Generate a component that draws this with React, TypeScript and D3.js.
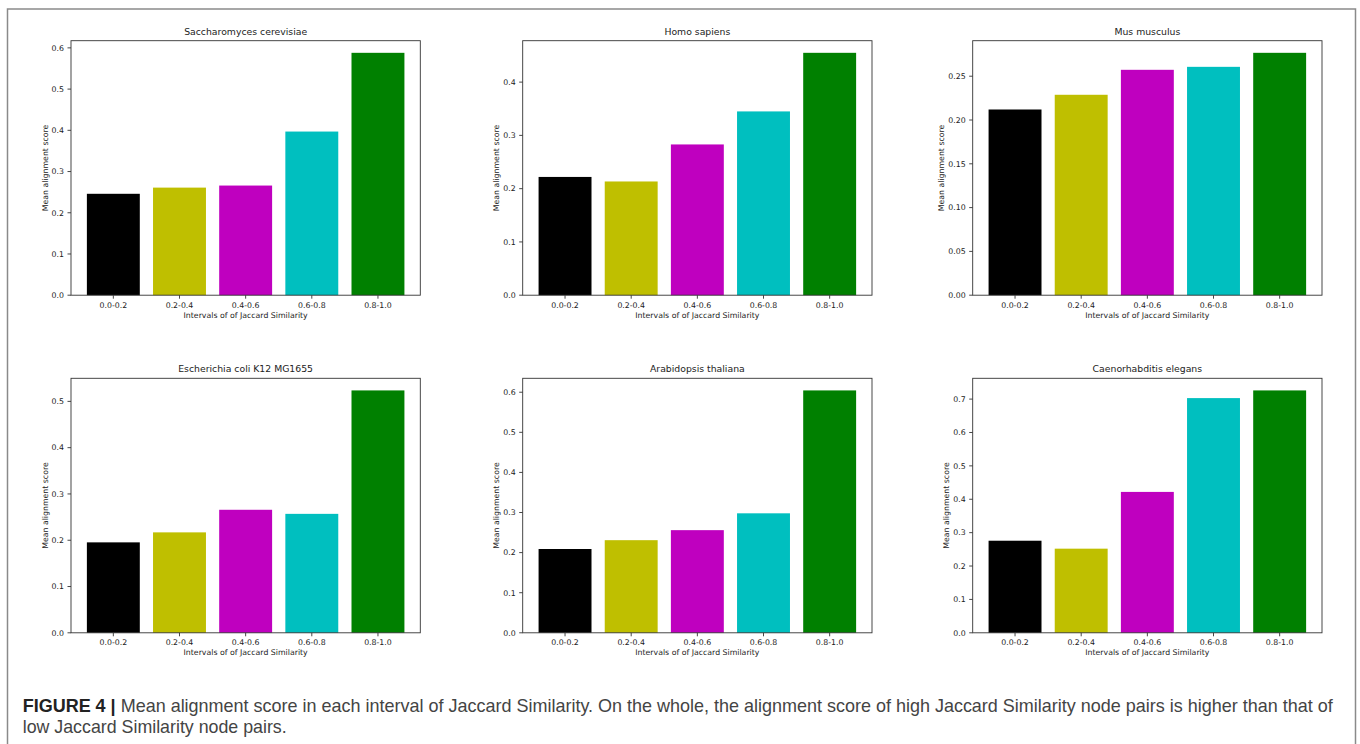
import React from "react";
import * as d3 from "d3";

// Jaccard similarity intervals shared by every panel
const intervals = ["0.0-0.2", "0.2-0.4", "0.4-0.6", "0.6-0.8", "0.8-1.0"];
const barColors = ["#000000", "#bfbf00", "#bf00bf", "#00bfbf", "#008000"];

// Mean alignment score per interval, one array per organism
const saccharomycesScores = [0.246, 0.261, 0.266, 0.397, 0.588];
const homoScores = [0.222, 0.2135, 0.283, 0.345, 0.455];
const musScores = [0.212, 0.2288, 0.2573, 0.2607, 0.2767];
const ecoliScores = [0.1954, 0.217, 0.2658, 0.257, 0.5237];
const arabidopsisScores = [0.209, 0.231, 0.256, 0.298, 0.6045];
const elegansScores = [0.2758, 0.252, 0.422, 0.703, 0.726];

// y tick values per panel
const ticksTenth6 = [0, 0.1, 0.2, 0.3, 0.4, 0.5, 0.6];
const ticksTenth4 = [0, 0.1, 0.2, 0.3, 0.4];
const ticksTwentieth = [0, 0.05, 0.1, 0.15, 0.2, 0.25];
const ticksTenth5 = [0, 0.1, 0.2, 0.3, 0.4, 0.5];
const ticksTenth7 = [0, 0.1, 0.2, 0.3, 0.4, 0.5, 0.6, 0.7];

const panelTitles = [
  "Saccharomyces cerevisiae",
  "Homo sapiens",
  "Mus musculus",
  "Escherichia coli K12 MG1655",
  "Arabidopsis thaliana",
  "Caenorhabditis elegans",
];
const panelScores = [saccharomycesScores, homoScores, musScores, ecoliScores, arabidopsisScores, elegansScores];
const panelTicks = [ticksTenth6, ticksTenth4, ticksTwentieth, ticksTenth5, ticksTenth6, ticksTenth7];
const panelTickDigits = [1, 1, 2, 1, 1, 1];

const xAxisLabel = "Intervals of of Jaccard Similarity";
const yAxisLabel = "Mean alignment score";

// grid geometry
const colLeft = [71, 522.7, 972.7];
const rowTop = [40.7, 378.3];
const axW = 349.3;
const axH = 254.5;

const FONT = "'DejaVu Sans', sans-serif";
const TICK_FS = 7.8;
const TITLE_FS = 9.3;

function Panel({ index }: { index: number }) {
  const col = index % 3;
  const row = Math.floor(index / 3);
  const left = colLeft[col];
  const top = rowTop[row];
  const values = panelScores[index];
  const ticks = panelTicks[index];
  const digits = panelTickDigits[index];

  const x = d3
    .scaleBand<string>()
    .domain(intervals)
    .range([left, left + axW])
    .paddingInner(0.2)
    .paddingOuter(0.24);
  const y = d3
    .scaleLinear()
    .domain([0, (d3.max(values) as number) * 1.05])
    .range([top + axH, top]);

  const fmt = d3.format(`.${digits}f`);
  // approximate advance width of the widest tick label (DejaVu digits 0.636em, dot 0.318em)
  const tickW = (digits + 1) * 0.636 * TICK_FS + 0.318 * TICK_FS;
  const yLabelX = left - 7 - tickW - 4;
  const bottom = top + axH;

  return (
    <g fontFamily={FONT}>
      {values.map((v, i) => (
        <rect
          key={i}
          x={x(intervals[i])}
          y={y(v)}
          width={x.bandwidth()}
          height={y(0) - y(v)}
          fill={barColors[i]}
        />
      ))}
      <rect x={left} y={top} width={axW} height={axH} fill="none" stroke="#333" strokeWidth={0.9} />
      {ticks.map((t) => (
        <g key={t}>
          <line x1={left - 3.5} x2={left} y1={y(t)} y2={y(t)} stroke="#333" strokeWidth={0.9} />
          <text x={left - 7} y={y(t) + 2.8} textAnchor="end" fontSize={TICK_FS} fill="#222">
            {fmt(t)}
          </text>
        </g>
      ))}
      {intervals.map((c) => {
        const cx = (x(c) as number) + x.bandwidth() / 2;
        return (
          <g key={c}>
            <line x1={cx} x2={cx} y1={bottom} y2={bottom + 3.5} stroke="#333" strokeWidth={0.9} />
            <text x={cx} y={bottom + 12.6} textAnchor="middle" fontSize={TICK_FS} fill="#222">
              {c}
            </text>
          </g>
        );
      })}
      <text x={left + axW / 2} y={bottom + 22.6} textAnchor="middle" fontSize={TICK_FS} fill="#222">
        {xAxisLabel}
      </text>
      <text
        transform={`translate(${yLabelX},${top + axH / 2}) rotate(-90)`}
        textAnchor="middle"
        fontSize={TICK_FS}
        fill="#222"
      >
        {yAxisLabel}
      </text>
      <text x={left + axW / 2} y={top - 6.2} textAnchor="middle" fontSize={TITLE_FS} fill="#222">
        {panelTitles[index]}
      </text>
    </g>
  );
}

export default function App() {
  return (
    <svg
      width={1360}
      height={744}
      style={{ position: "fixed", left: 0, top: 0, display: "block", background: "#fff" }}
    >
      <rect x={0} y={0} width={1360} height={744} fill="#fff" />
      <path d="M7.5,760 V9 H1355.5 V760" fill="none" stroke="#8a8a8a" strokeWidth={1.5} />
      {panelTitles.map((_, i) => (
        <Panel key={i} index={i} />
      ))}
      <g fontFamily="'Liberation Sans', Arial, sans-serif" fontSize={17.8}>
        <text x={22.7} y={711.5} textLength={1310} lengthAdjust="spacingAndGlyphs" fill="#444">
          <tspan fontWeight="bold" fill="#222">FIGURE 4 |</tspan>
          <tspan> Mean alignment score in each interval of Jaccard Similarity. On the whole, the alignment score of high Jaccard Similarity node pairs is higher than that of</tspan>
        </text>
        <text x={22.7} y={733.3} textLength={264} lengthAdjust="spacingAndGlyphs" fill="#444">
          low Jaccard Similarity node pairs.
        </text>
      </g>
    </svg>
  );
}
